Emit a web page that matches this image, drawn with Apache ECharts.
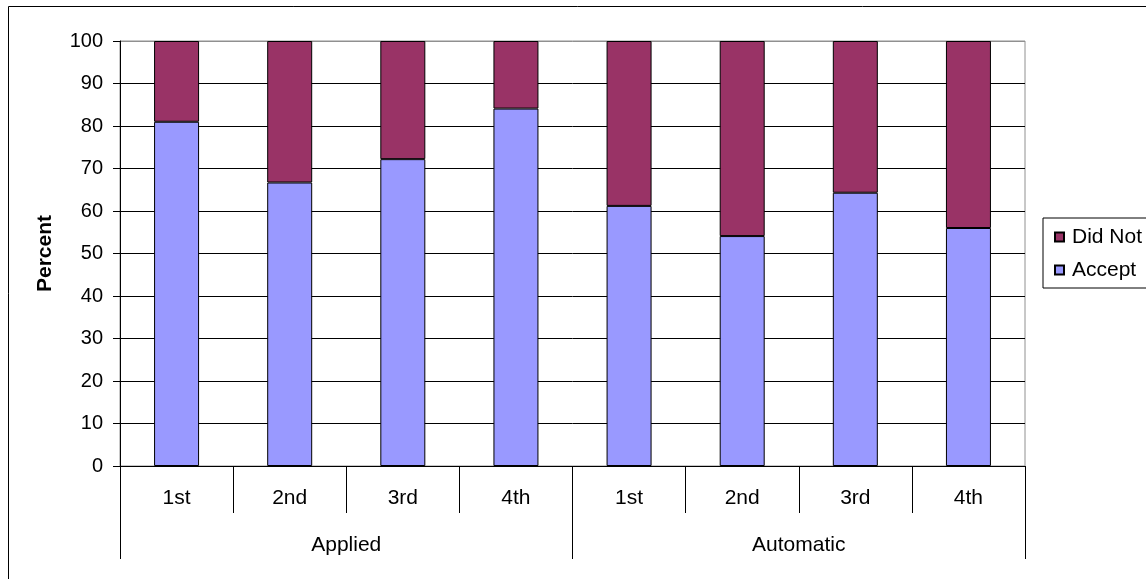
<!DOCTYPE html>
<html>
<head>
<meta charset="utf-8">
<script src="https://cdn.jsdelivr.net/npm/echarts@6/dist/echarts.min.js"></script>
<style>
  html, body { margin: 0; padding: 0; background: #fff; }
  #chart { width: 1146px; height: 579px; }
</style>
</head>
<body>
<div id="chart"></div>
<script>
// Rounds within each group, and the two groups
const rounds = ['1st', '2nd', '3rd', '4th', '1st', '2nd', '3rd', '4th'];
const groups = ['Applied', 'Automatic'];
const yTicks = { min: 0, max: 100, step: 10 };

// Percent accepting, per round
const accept = [81, 66.7, 72.2, 84.1, 61.2, 54.1, 64.3, 56];
// Percent not accepting (remainder to 100)
const didNot = [19, 33.3, 27.8, 15.9, 38.8, 45.9, 35.7, 44];

const font = 'Liberation Sans, Arial, sans-serif';
const fs = 21;
const chart = echarts.init(document.getElementById('chart'), null, { renderer: 'canvas' });

// Gridlines black, with the top (100) line drawn grey like the plot frame
const splitColors = [];
for (let v = yTicks.min; v <= yTicks.max; v += yTicks.step) {
  splitColors.push(v === yTicks.max ? '#909090' : '#000000');
}

chart.setOption({
  animation: false,
  backgroundColor: '#ffffff',
  textStyle: { fontFamily: font },
  graphic: [{
    type: 'rect',
    shape: { x: 8.5, y: 6.5, width: 1200, height: 700 },
    style: { fill: 'none', stroke: '#000', lineWidth: 1 },
    z: -10
  }],
  grid: {
    left: 120, right: 121, top: 41, bottom: 113,
    show: true, borderColor: '#909090', borderWidth: 1, backgroundColor: 'transparent'
  },
  legend: {
    orient: 'vertical',
    left: 1043, top: 218,
    data: ['Did Not', 'Accept'],
    icon: 'rect',
    itemWidth: 9, itemHeight: 9,
    itemGap: 11,
    padding: [8, 40, 7, 11],
    borderColor: '#000', borderWidth: 1,
    textStyle: { fontFamily: font, fontSize: fs, lineHeight: 22, color: '#000', padding: [0, 0, 0, 3] }
  },
  xAxis: [{
    type: 'category',
    position: 'bottom',
    data: rounds,
    axisLine: { show: true, lineStyle: { color: '#000', width: 1 } },
    axisTick: { show: true, interval: 0, length: 47, lineStyle: { color: '#000' } },
    axisLabel: { interval: 0, margin: 22, fontSize: fs, color: '#000', fontFamily: font },
    splitLine: { show: false }
  }, {
    type: 'category',
    position: 'bottom',
    data: groups,
    axisLine: { show: false },
    axisTick: { show: true, interval: 0, length: 93, lineStyle: { color: '#000' } },
    axisLabel: { interval: 0, margin: 69, fontSize: fs, color: '#000', fontFamily: font },
    splitLine: { show: false }
  }],
  yAxis: {
    type: 'value',
    min: yTicks.min, max: yTicks.max, interval: yTicks.step,
    name: 'Percent',
    nameLocation: 'middle',
    nameGap: 64,
    nameTextStyle: { fontSize: fs, fontWeight: 'bold', color: '#000', fontFamily: font },
    axisLine: { show: true, lineStyle: { color: '#000', width: 1 } },
    axisTick: { show: true, length: 7, lineStyle: { color: '#000' } },
    axisLabel: { margin: 17, fontSize: 20, color: '#000', fontFamily: font },
    splitLine: { show: true, lineStyle: { color: splitColors, width: 1 } }
  },
  series: [{
    name: 'Accept',
    type: 'bar',
    stack: 'total',
    barWidth: 45,
    data: accept,
    itemStyle: { color: '#9999FF', borderColor: '#000', borderWidth: 1 }
  }, {
    name: 'Did Not',
    type: 'bar',
    stack: 'total',
    barWidth: 45,
    data: didNot,
    itemStyle: { color: '#993366', borderColor: '#000', borderWidth: 1 }
  }]
});
</script>
</body>
</html>
